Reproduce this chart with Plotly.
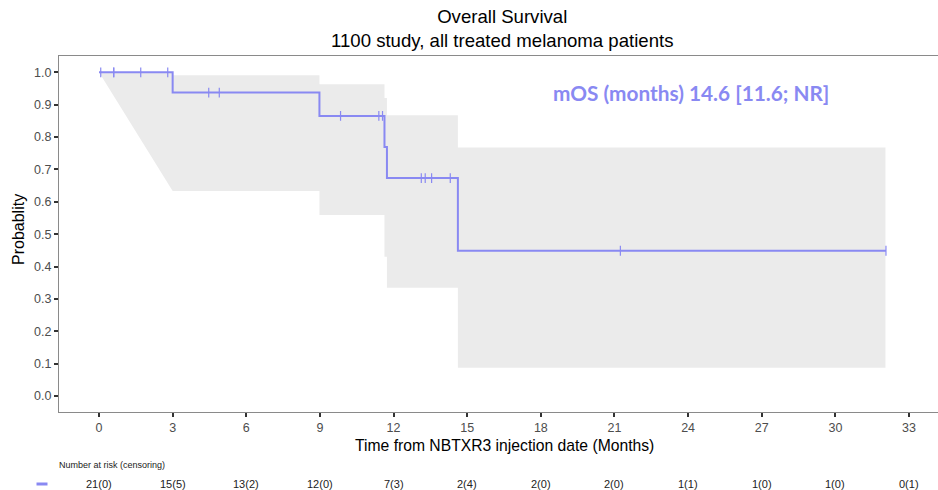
import plotly.graph_objects as go

# ---- data ----
step_times = [0.0, 3.0, 8.98, 11.63, 11.73, 14.62, 32.06]
step_surv = [1.0, 0.9375, 0.8654, 0.7692, 0.6731, 0.4487, 0.4487]

censor_times = [0.07, 0.6, 0.6, 1.7, 2.8, 4.47, 4.9, 9.84, 11.4, 11.55,
                13.13, 13.29, 13.55, 14.31, 21.24, 32.06]

ci_times = [0.0, 3.0, 8.98, 11.63, 11.73, 14.62, 32.04]
ci_upper = [1.0, 0.991, 0.963, 0.921, 0.867, 0.768]
ci_lower = [1.0, 0.633, 0.559, 0.430, 0.334, 0.087]

risk_times = [0, 3, 6, 9, 12, 15, 18, 21, 24, 27, 30, 33]
risk_labels = ["21(0)", "15(5)", "13(2)", "12(0)", "7(3)", "2(4)", "2(0)",
               "2(0)", "1(1)", "1(0)", "1(0)", "0(1)"]

x_ticks = [0, 3, 6, 9, 12, 15, 18, 21, 24, 27, 30, 33]
y_ticks = [0.0, 0.1, 0.2, 0.3, 0.4, 0.5, 0.6, 0.7, 0.8, 0.9, 1.0]

title_text = "Overall Survival<br>1100 study, all treated melanoma patients"
mos_text = "mOS (months) 14.6 [11.6; NR]"

BLUE = "#8989f2"
W, H = 938, 490
ML, MR, MT, MB = 59, 0, 56, 78
PW, PH = W - ML - MR, H - MT - MB


def px_to_paper_x(px):
    return (px - ML) / PW


def px_to_paper_y(py):
    return (H - MB - py) / PH


def surv_at(t):
    s = step_surv[0]
    for tt, ss in zip(step_times, step_surv):
        if tt <= t:
            s = ss
    return s


# ---- CI polygon (upper stepped, lower stepped with first segment linear) ----
ux, uy = [], []
for i in range(len(ci_upper)):
    ux += [ci_times[i], ci_times[i + 1]]
    uy += [ci_upper[i], ci_upper[i]]
lx, ly = [ci_times[0]], [ci_lower[0]]
for i in range(1, len(ci_lower)):
    lx += [ci_times[i], ci_times[i + 1]]
    ly += [ci_lower[i], ci_lower[i]]
poly_x = ux + lx[::-1]
poly_y = uy + ly[::-1]

fig = go.Figure()
fig.add_trace(go.Scatter(x=poly_x, y=poly_y, fill="toself", mode="none",
                         fillcolor="#ebebeb", hoverinfo="skip", showlegend=False))
fig.add_trace(go.Scatter(x=step_times, y=step_surv, mode="lines",
                         line=dict(color=BLUE, width=2, shape="hv"),
                         showlegend=False))
fig.add_trace(go.Scatter(x=censor_times, y=[surv_at(t) for t in censor_times],
                         mode="markers",
                         marker=dict(symbol="line-ns", size=7,
                                     line=dict(color=BLUE, width=1.2)),
                         showlegend=False))

annotations = [
    dict(text=title_text, x=px_to_paper_x(502), y=px_to_paper_y(28.5),
         xref="paper", yref="paper", xanchor="center", yanchor="middle",
         showarrow=False, font=dict(size=18.6, color="black", family="Liberation Sans")),
    dict(text=mos_text, x=24.1, y=0.939, xref="x", yref="y",
         xanchor="center", yanchor="middle", showarrow=False,
         font=dict(size=20.8, color=BLUE, family="Lato", weight="bold")),
    dict(text="Time from NBTXR3 injection date (Months)", x=px_to_paper_x(505),
         y=px_to_paper_y(446), xref="paper", yref="paper", xanchor="center",
         yanchor="middle", showarrow=False,
         font=dict(size=15.7, color="black", family="Liberation Sans")),
    dict(text="Probablity", x=px_to_paper_x(18), y=px_to_paper_y(230),
         xref="paper", yref="paper", xanchor="center", yanchor="middle",
         textangle=-90, showarrow=False,
         font=dict(size=16, color="black", family="Liberation Sans")),
    dict(text="Number at risk (censoring)", x=px_to_paper_x(57),
         y=px_to_paper_y(465.5), xref="paper", yref="paper", xanchor="left",
         yanchor="middle", showarrow=False,
         font=dict(size=9, color="#222222", family="Liberation Sans")),
]
for t, lab in zip(risk_times, risk_labels):
    annotations.append(dict(text=lab, x=t, y=px_to_paper_y(484), xref="x",
                            yref="paper", xanchor="center", yanchor="middle",
                            showarrow=False,
                            font=dict(size=11, color="#222222",
                                      family="Liberation Sans")))

shapes = [dict(type="line", xref="paper", yref="paper",
               x0=px_to_paper_x(36.5), x1=px_to_paper_x(47.5),
               y0=px_to_paper_y(484), y1=px_to_paper_y(484),
               line=dict(color=BLUE, width=3))]

fig.update_layout(
    width=W, height=H,
    margin=dict(l=ML, r=MR, t=MT, b=MB),
    paper_bgcolor="white", plot_bgcolor="white",
    annotations=annotations, shapes=shapes,
    showlegend=False,
    xaxis=dict(range=[-1.63, 34.18], tickvals=x_ticks, showgrid=False,
               zeroline=False, showline=True, mirror=True, linecolor="#8a8a8a",
               linewidth=1.3, ticks="outside", ticklen=4, tickwidth=1.5,
               tickcolor="#333333",
               tickfont=dict(size=12.5, color="#4d4d4d", family="Liberation Sans")),
    yaxis=dict(range=[-0.0495, 1.0504], tickvals=y_ticks, tickformat=".1f",
               showgrid=False, zeroline=False, showline=True,
               linecolor="#8a8a8a", linewidth=1.3, ticks="outside", ticklen=4,
               tickwidth=1.5, tickcolor="#333333",
               tickfont=dict(size=12.5, color="#4d4d4d", family="Liberation Sans")),
)

fig.write_html("out.html")
